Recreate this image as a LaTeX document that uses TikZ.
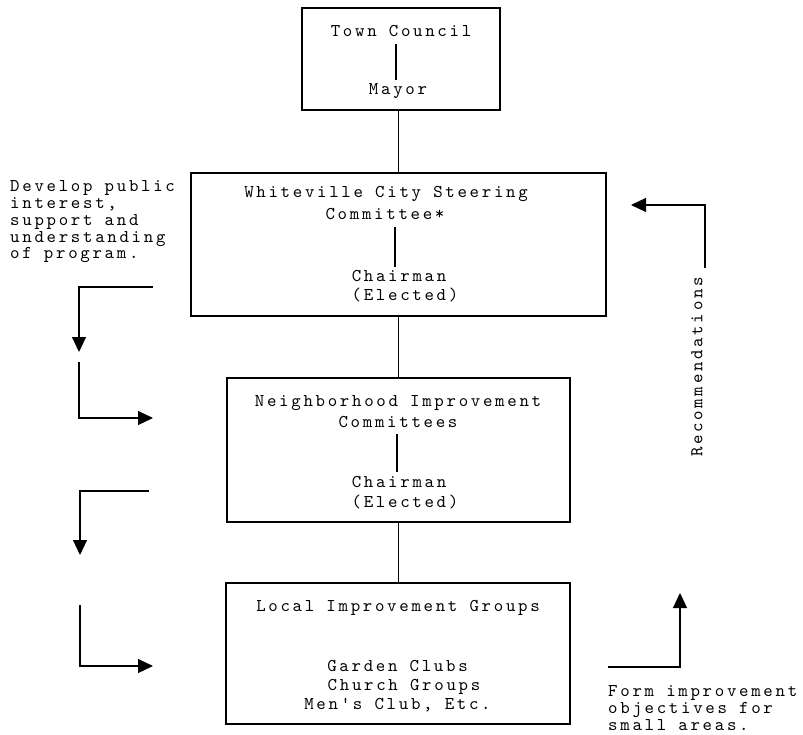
\documentclass[tikz,border=0pt]{standalone}
\usepackage{fontspec}
\usetikzlibrary{arrows.meta}
\newfontfamily\twfam{lmmono10-regular.otf}[LetterSpace=15]
\newcommand\twfont{\twfam\fontsize{18}{17}\selectfont}
\begin{document}
\begin{tikzpicture}[x=1pt,y=-1pt,
  every node/.style={font=\twfont},
  box/.style={draw, line width=1.1pt, inner sep=0pt},
  txt/.style={inner sep=0pt, text height=12pt, text depth=3pt, anchor=base},
  ltxt/.style={inner sep=0pt, text height=11pt, text depth=3pt, anchor=base west},
  ln/.style={line width=1.1pt},
  inln/.style={line width=1.1pt, shorten <=4pt, shorten >=3pt},
  arr/.style={line width=1.1pt, -{Triangle[length=15pt,width=14pt]}}]
\useasboundingbox (0,0) rectangle (803,735);

% boxes
\node[box, minimum width=198pt, minimum height=102pt] (council) at (401,59) {};
\node[box, minimum width=415pt, minimum height=143pt] (steering) at (398.5,244.5) {};
\node[box, minimum width=343pt, minimum height=144pt] (neigh) at (398.5,450) {};
\node[box, minimum width=344pt, minimum height=141pt] (local) at (398,653.5) {};

% council texts
\node[txt] (tc) at (401,37) {Town Council};
\node[txt] (mayor) at (398,95) {Mayor};
\draw[inln] ([xshift=-5pt]tc.south) -- ([xshift=-5pt]tc.south |- mayor.north);

% steering texts
\node[txt] (wcs) at (386,198) {Whiteville City Steering};
\node[txt] (sc) at (385,220) {Committee*};
\node[txt] (sch) at (399,282) {Chairman};
\node[txt] (sel) at (405,301) {(Elected)};
\draw[inln] ([xshift=10pt]sc.south) -- ([xshift=10pt]sc.south |- sch.north);

% neighborhood texts
\node[txt] (nic) at (398,406) {Neighborhood Improvement};
\node[txt] (nc) at (398,427) {Committees};
\node[txt] (nch) at (399,487) {Chairman};
\node[txt] (nel) at (405,507) {(Elected)};
\draw[inln] ([xshift=-1pt]nc.south) -- ([xshift=-1pt]nc.south |- nch.north);

% local texts
\node[txt] (lig) at (398,611) {Local Improvement Groups};
\node[txt] (gc) at (397.5,671) {Garden Clubs};
\node[txt] (cg) at (404,690) {Church Groups};
\node[txt] (mc) at (397.5,709) {Men's Club, Etc.};

% main connectors
\draw[ln] (steering.north) -- (steering.north |- council.south);
\draw[ln] (steering.south) -- (steering.south |- neigh.north);
\draw[ln] (neigh.south) -- (neigh.south |- local.north);

% left text
\node[ltxt] (dev1) at (10,192) {Develop public};
\node[ltxt] (dev2) at (10,208.7) {interest,};
\node[ltxt] (dev3) at (10,225.4) {support and};
\node[ltxt] (dev4) at (10,242.1) {understanding};
\node[ltxt] (dev5) at (10,258.8) {of program.};

% left arrows
\coordinate (a1s) at (153,287); \coordinate (a1c) at (79,287); \coordinate (a1e) at (79,352);
\coordinate (a2s) at (79,362); \coordinate (a2c) at (79,418); \coordinate (a2e) at (153,418);
\coordinate (a3s) at (149,491); \coordinate (a3c) at (80,491); \coordinate (a3e) at (80,555);
\coordinate (a4s) at (80,605); \coordinate (a4c) at (80,666); \coordinate (a4e) at (153,666);
\draw[arr] (a1s) -- (a1c) -- (a1e);
\draw[arr] (a2s) -- (a2c) -- (a2e);
\draw[arr] (a3s) -- (a3c) -- (a3e);
\draw[arr] (a4s) -- (a4c) -- (a4e);

% right side
\node[inner sep=0pt, rotate=90] (rec) at (697,367) {Recommendations};
\coordinate (r1s) at (705,268); \coordinate (r1c) at (705,205); \coordinate (r1e) at (631,205);
\draw[arr] (r1s) -- (r1c) -- (r1e);

\coordinate (f1s) at (608,667); \coordinate (f1c) at (680,667); \coordinate (f1e) at (680,593);
\draw[arr] (f1s) -- (f1c) -- (f1e);
\node[ltxt] (form1) at (608,696) {Form improvement};
\node[ltxt] (form2) at (608,713) {objectives for};
\node[ltxt] (form3) at (608,730) {small areas.};
\end{tikzpicture}
\end{document}
